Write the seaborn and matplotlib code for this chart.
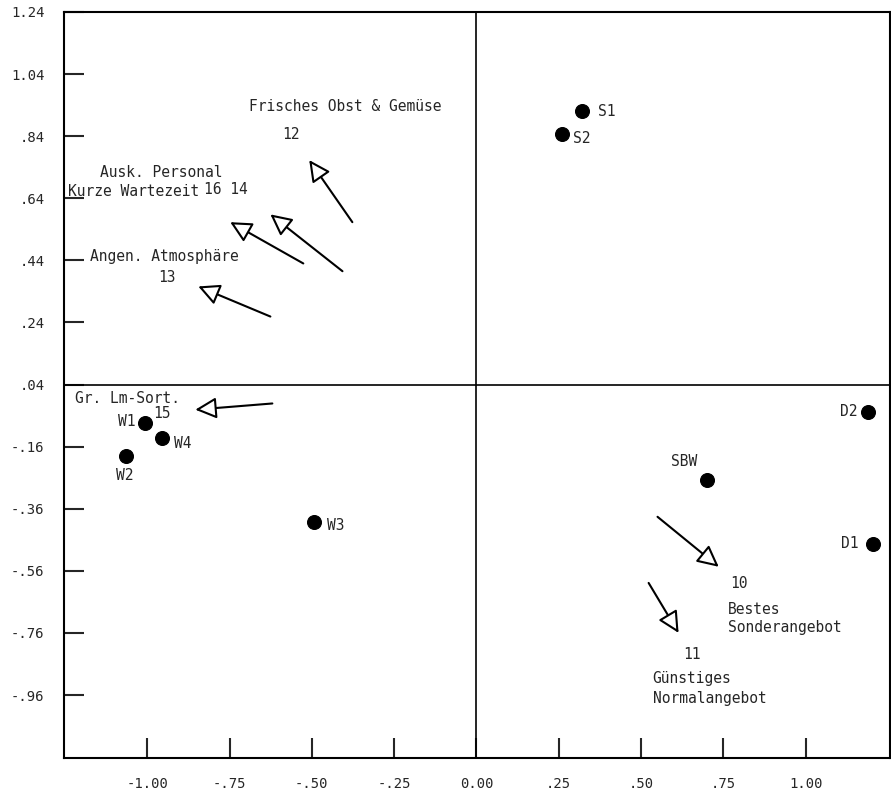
import seaborn as sns
from matplotlib import pyplot as plt

# stores / competitors (points)
point_labels = ["S1", "S2", "D1", "D2", "SBW", "W1", "W2", "W3", "W4"]
point_x = [0.322, 0.261, 1.204, 1.188, 0.699, -1.006, -1.064, -0.495, -0.954]
point_y = [0.921, 0.846, -0.473, -0.050, -0.266, -0.083, -0.189, -0.402, -0.131]

# attribute vectors (arrows), tail -> head
attr_ids = ["10", "11", "12", "13", "14", "15", "16"]
tail_x = [0.550, 0.523, -0.377, -0.626, -0.407, -0.620, -0.526]
tail_y = [-0.386, -0.599, 0.563, 0.259, 0.405, -0.021, 0.430]
head_x = [0.736, 0.614, -0.508, -0.845, -0.626, -0.854, -0.748]
head_y = [-0.547, -0.760, 0.763, 0.356, 0.588, -0.041, 0.563]

x_ticks = [-1.00, -0.75, -0.50, -0.25, 0.00, 0.25, 0.50, 0.75, 1.00]
x_tick_labels = ["-1.00", "-.75", "-.50", "-.25", "0.00", ".25", ".50", ".75", "1.00"]
y_ticks = [1.24, 1.04, 0.84, 0.64, 0.44, 0.24, 0.04, -0.16, -0.36, -0.56, -0.76, -0.96]
y_tick_labels = ["1.24", "1.04", ".84", ".64", ".44", ".24", ".04",
                 "-.16", "-.36", "-.56", "-.76", "-.96"]

sns.set_style("white")
plt.rcParams['font.family'] = ['DejaVu Sans Mono', 'DejaVu Sans']

fig = plt.figure(figsize=(8.91, 7.93), dpi=100)
ax = fig.add_axes([0.0718, 0.0441, 0.9270, 0.9408])

# quadrant lines
ax.axvline(0.0, color="black", lw=1.2, zorder=1)
ax.axhline(0.04, color="black", lw=1.2, zorder=1)

sns.scatterplot(x=point_x, y=point_y, color="black", edgecolor="black",
                s=100, ax=ax, zorder=3)

# point labels: (dx, dy) in points, alignment
offsets = {
    "S1": (11, 0, "left"), "S2": (8, -3, "left"),
    "D1": (-10, 0, "right"), "D2": (-7, 1, "right"),
    "SBW": (-16, 13, "center"), "W1": (-7, 1, "right"),
    "W2": (-1, -14, "center"), "W3": (10, -3, "left"), "W4": (8, -4, "left"),
}
for lab, x, y in zip(point_labels, point_x, point_y):
    dx, dy, ha = offsets[lab]
    ax.annotate(lab, (x, y), xytext=(dx, dy), textcoords="offset points",
                ha=ha, va="center", fontsize=10.5)

for tx, ty, hx, hy in zip(tail_x, tail_y, head_x, head_y):
    ax.annotate("", xy=(hx, hy), xytext=(tx, ty),
                arrowprops=dict(arrowstyle="-|>,head_length=1.0,head_width=0.5",
                                facecolor="white", edgecolor="black", lw=1.5,
                                mutation_scale=13, shrinkA=0, shrinkB=0))

# attribute labels
fs = 10.5
ax.text(-0.69, 0.934, "Frisches Obst & Gemüse", ha="left", va="center", fontsize=fs)
ax.text(-0.565, 0.846, attr_ids[2], ha="center", va="center", fontsize=fs)
ax.text(-1.143, 0.724, "Ausk. Personal", ha="left", va="center", fontsize=fs)
ax.text(-1.240, 0.663, "Kurze Wartezeit", ha="left", va="center", fontsize=fs)
ax.text(-0.827, 0.669, attr_ids[6] + " " + attr_ids[4], ha="left", va="center", fontsize=fs)
ax.text(-1.173, 0.453, "Angen. Atmosphäre", ha="left", va="center", fontsize=fs)
ax.text(-0.939, 0.385, attr_ids[3], ha="center", va="center", fontsize=fs)
ax.text(-1.219, -0.005, "Gr. Lm-Sort.", ha="left", va="center", fontsize=fs)
ax.text(-0.954, -0.054, attr_ids[5], ha="center", va="center", fontsize=fs)
ax.text(0.796, -0.602, attr_ids[0], ha="center", va="center", fontsize=fs)
ax.text(0.763, -0.683, "Bestes", ha="left", va="center", fontsize=fs)
ax.text(0.763, -0.741, "Sonderangebot", ha="left", va="center", fontsize=fs)
ax.text(0.654, -0.831, attr_ids[1], ha="center", va="center", fontsize=fs)
ax.text(0.535, -0.908, "Günstiges", ha="left", va="center", fontsize=fs)
ax.text(0.535, -0.970, "Normalangebot", ha="left", va="center", fontsize=fs)

ax.set_xlim(-1.253, 1.256)
ax.set_ylim(-1.163, 1.24)
ax.set_xticks(x_ticks)
ax.set_xticklabels(x_tick_labels)
ax.set_yticks(y_ticks)
ax.set_yticklabels(y_tick_labels)
ax.tick_params(direction="in", length=14.5, width=1.5, pad=14, labelsize=10,
               bottom=True, left=True, top=False, right=False)
for s in ax.spines.values():
    s.set_color("black")
    s.set_linewidth(1.5)
ax.set_xlabel("")
ax.set_ylabel("")

fig.savefig("out.png", dpi=100)
